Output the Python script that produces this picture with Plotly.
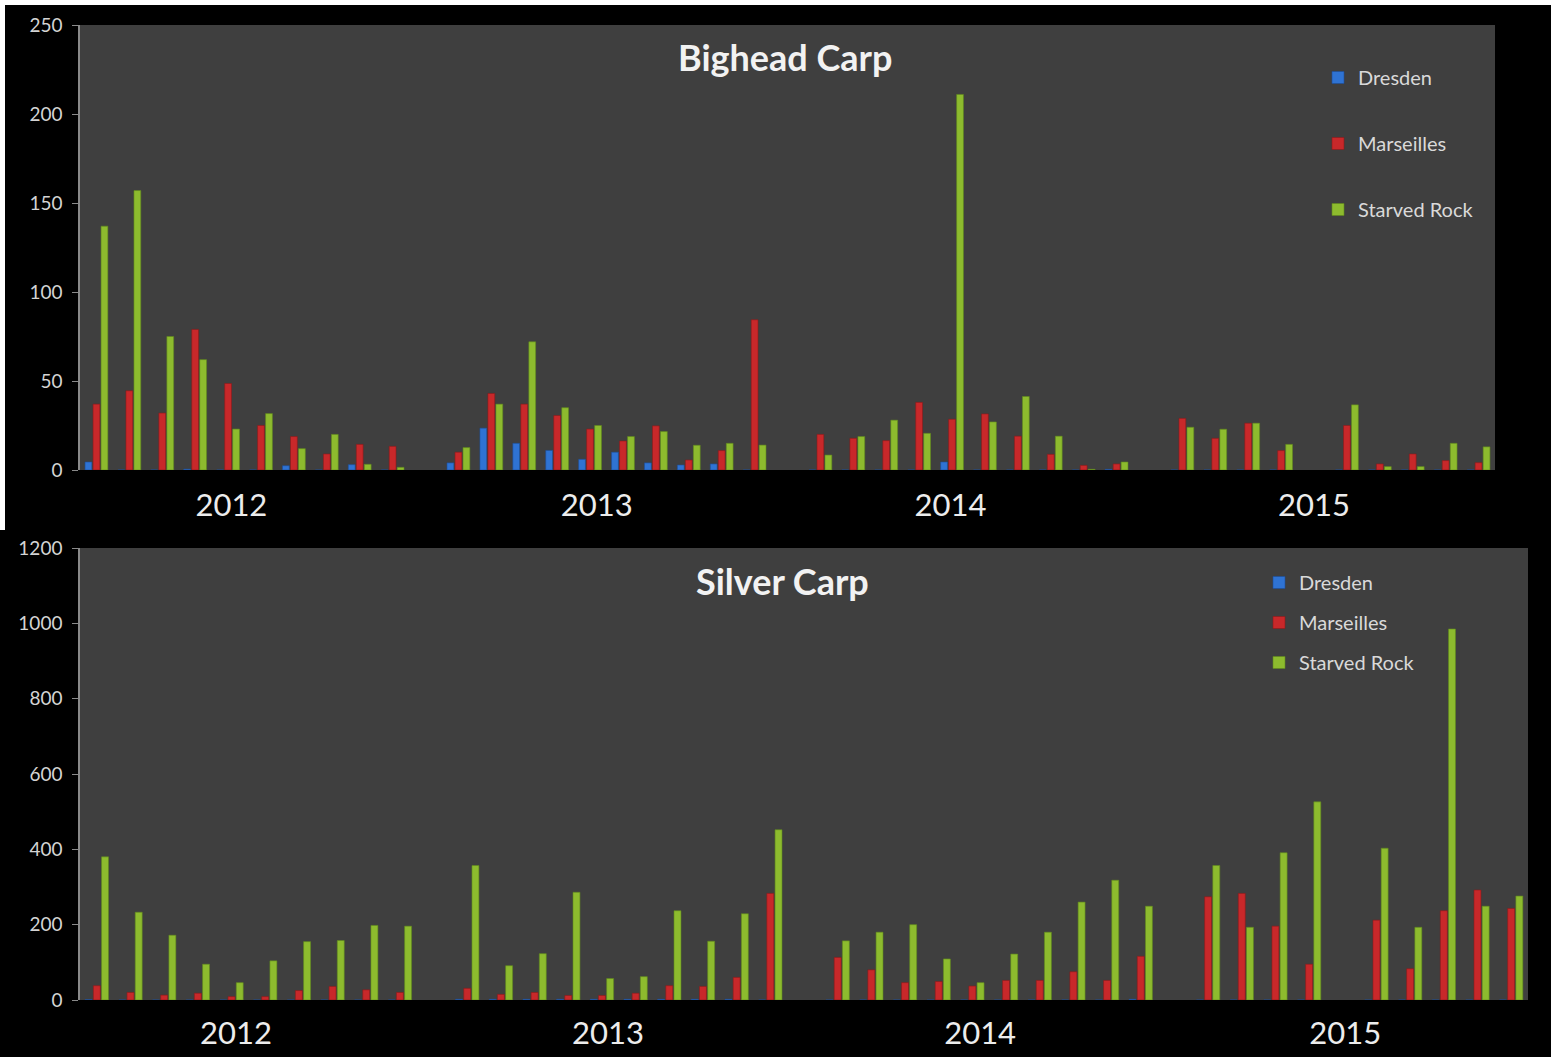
import plotly.graph_objects as go

# ---------------- data ----------------
groups = list(range(43))  # sampling events (left to right)

# Bighead Carp
bh_dresden = [4.5, 0, 0, 0.5, 0, 0, 2.4, 0, 3, 0, None,
              4, 23.5, 15, 11, 6, 10, 4, 2.8, 3.4, 0, None,
              0, 0, 0, 0, 4.5, 0, 0, 0, 0, 0.4, None,
              0, 0, 0, 0, None,
              0, 0, 0, 0, 0]
bh_marseilles = [37, 44.5, 32, 79, 48.6, 25, 18.8, 9, 14.4, 13.3, None,
                 10, 43, 37, 30.6, 23, 16.3, 24.8, 5.6, 10.9, 84.4, None,
                 20, 17.8, 16.5, 38, 28.5, 31.5, 19, 8.8, 2.6, 3.4, None,
                 29, 17.8, 26.3, 10.9, None,
                 25, 3.4, 9, 5.3, 4.1]
bh_starved = [137, 157, 75, 62, 23, 31.7, 12, 20, 3.2, 1.5, None,
              12.6, 37, 72, 35, 25, 18.8, 21.6, 13.9, 15, 14, None,
              8.4, 18.8, 28, 20.6, 211, 27, 41.3, 19, 0.4, 4.5, None,
              24, 22.9, 26.3, 14.4, None,
              36.6, 1.9, 1.9, 15, 13]

# Silver Carp
sc_dresden = [1, 0, 0, 0, 0, 0, 0, 0, 0, 0, None,
              2, 2, 2, 2, 2, 2, 2, 2, 2, 0, None,
              0, 0, 0, 0, 0, 0, 0, 0, 0, 2, None,
              0, 0, 0, 0, None,
              0, 0, 0, 0, 0]
sc_marseilles = [38, 20, 13, 18, 9, 9, 25, 36, 27, 20, None,
                 31, 15, 20, 12, 12, 18, 38, 36, 60, 283, None,
                 113, 80, 46, 49, 37, 52, 52, 75, 52, 116, None,
                 274, 283, 196, 95, None,
                 212, 83, 237, 292, 243]
sc_starved = [380, 233, 172, 95, 46, 104, 155, 158, 198, 196, None,
              357, 91, 123, 286, 57, 62, 237, 156, 229, 452, None,
              157, 180, 200, 109, 46, 122, 180, 260, 318, 249, None,
              357, 193, 391, 526, None,
              403, 193, 985, 249, 276]

series_names = ["Dresden", "Marseilles", "Starved Rock"]
series_colors = ["#2f73d3", "#c8282a", "#8dbb2e"]
series_edges = ["#1d4f9a", "#8e1a1a", "#5f8a1c"]

year_labels = ["2012", "2013", "2014", "2015"]
bh_year_pos = [4.1, 15.2, 25.95, 37.0]
sc_year_pos = [4.13, 15.18, 26.23, 37.07]

# ---------------- figure ----------------
W, H = 1561, 1057
fig = go.Figure()

def px_x(p):
    return p / W

def px_y(p):
    return 1 - p / H

bh_sets = [bh_dresden, bh_marseilles, bh_starved]
sc_sets = [sc_dresden, sc_marseilles, sc_starved]

for i, name in enumerate(series_names):
    fig.add_trace(go.Bar(
        x=groups, y=bh_sets[i], name=name, xaxis="x", yaxis="y",
        marker=dict(color=series_colors[i], line=dict(color=series_edges[i], width=0.6)),
        legend="legend", legendgroup="bh" + name,
    ))
for i, name in enumerate(series_names):
    fig.add_trace(go.Bar(
        x=groups, y=sc_sets[i], name=name, xaxis="x2", yaxis="y2",
        marker=dict(color=series_colors[i], line=dict(color=series_edges[i], width=0.6)),
        legend="legend2", legendgroup="sc" + name,
    ))

FONT = "Lato, Open Sans, sans-serif"
tick_font = dict(family=FONT, size=19, color="#d4d4d4")
year_font = dict(family=FONT, size=31, color="#ececec")
legend_font = dict(family=FONT, size=20, color="#d9d9d9")

yax_common = dict(tickfont=tick_font, ticks="outside", ticklen=6, tickcolor="#8a8a8a",
                  showline=True, linecolor="#8a8a8a", linewidth=1.5,
                  showgrid=False, zeroline=False, automargin=False, ticklabelstandoff=6)
xax_common = dict(range=[-0.5, 42.5], tickmode="array", ticktext=year_labels,
                  tickfont=year_font, ticks="", showgrid=False, zeroline=False,
                  showline=False, automargin=False)

fig.update_layout(
    width=W, height=H,
    margin=dict(l=0, r=0, t=0, b=0, pad=0),
    paper_bgcolor="black",
    plot_bgcolor="#3f3f3f",
    barmode="group",
    bargap=0.27,
    bargroupgap=0.15,
    showlegend=True,
    xaxis=dict(domain=[px_x(80), px_x(1495)], anchor="y", tickvals=bh_year_pos,
               ticklabelstandoff=14, **xax_common),
    yaxis=dict(domain=[px_y(470), px_y(25)], anchor="x", range=[0, 250], dtick=50, **yax_common),
    xaxis2=dict(domain=[px_x(80), px_x(1528)], anchor="y2", tickvals=sc_year_pos,
                ticklabelstandoff=12, **xax_common),
    yaxis2=dict(domain=[px_y(1000), px_y(548)], anchor="x2", range=[0, 1200], dtick=200, **yax_common),
    legend=dict(x=px_x(1318), y=px_y(58), xanchor="left", yanchor="top",
                bgcolor="rgba(0,0,0,0)", font=legend_font,
                tracegroupgap=37, itemwidth=30, traceorder="grouped"),
    legend2=dict(x=px_x(1259), y=px_y(563), xanchor="left", yanchor="top",
                 bgcolor="rgba(0,0,0,0)", font=legend_font,
                 tracegroupgap=11, itemwidth=30, traceorder="grouped"),
    shapes=[
        # white page strips around the black chart frames
        dict(type="rect", xref="paper", yref="paper", layer="below",
             x0=0, x1=1, y0=px_y(5), y1=1, fillcolor="white", line=dict(width=0)),
        dict(type="rect", xref="paper", yref="paper", layer="below",
             x0=0, x1=px_x(5), y0=px_y(530), y1=1, fillcolor="white", line=dict(width=0)),
        dict(type="rect", xref="paper", yref="paper", layer="below",
             x0=px_x(1551), x1=1, y0=0, y1=1, fillcolor="white", line=dict(width=0)),
    ],
    annotations=[
        dict(text="<b>Bighead Carp</b>", x=px_x(785), y=px_y(57), xref="paper", yref="paper",
             xanchor="center", yanchor="middle", showarrow=False,
             font=dict(family=FONT, size=36, color="#f2f2f2")),
        dict(text="<b>Silver Carp</b>", x=px_x(782), y=px_y(581), xref="paper", yref="paper",
             xanchor="center", yanchor="middle", showarrow=False,
             font=dict(family=FONT, size=36, color="#f2f2f2")),
    ],
)

fig.write_html("out.html", config={"displayModeBar": False},
               post_script="document.body.style.margin='0';")
